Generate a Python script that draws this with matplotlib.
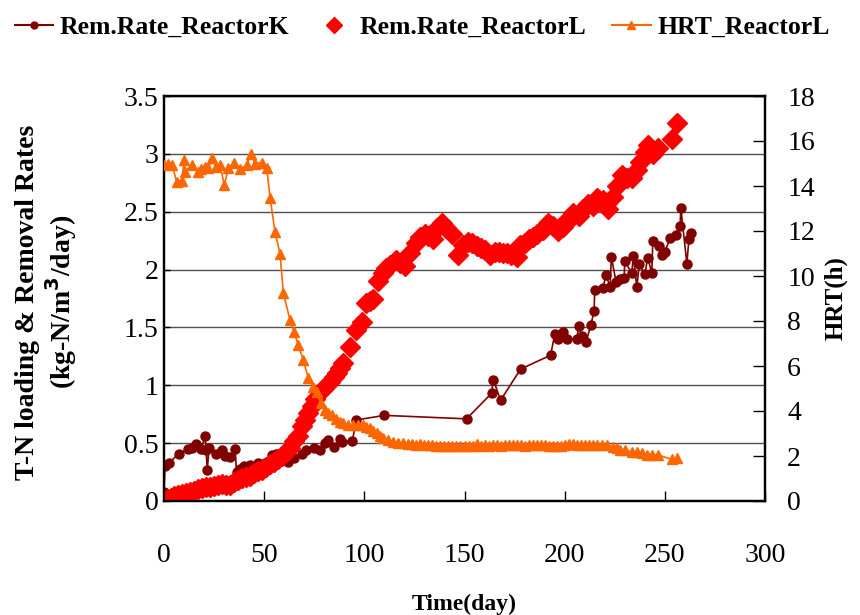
import matplotlib
matplotlib.use("Agg")
import matplotlib.pyplot as plt
from matplotlib.lines import Line2D

# ---------------- data ----------------
k_day = [0, 0.5, 2.5, 7.5, 12, 14, 16, 18.5, 20.5, 21, 21.6, 22.5, 26, 29, 30.5, 33,
         35.5, 36.2, 38, 40, 43, 47, 50.5, 54, 56, 62, 65, 69, 71, 75, 78, 80.5, 82,
         85, 88, 89, 94, 96, 110, 151, 163.5, 164.4, 168, 178, 193, 195, 196.5, 199,
         201, 206, 207, 208.5, 210.7, 213, 214.7, 215, 219, 220.7, 222.7, 223.3,
         225.7, 227.7, 229.7, 230, 233.5, 234.3, 236, 237.3, 240, 241.5, 243.5, 244,
         247.3, 248.5, 250, 252.6, 255.6, 257.6, 258, 261, 262, 263]
k_rate = [0.08, 0.30, 0.33, 0.41, 0.45, 0.46, 0.49, 0.45, 0.56, 0.44, 0.27, 0.46, 0.41,
          0.44, 0.39, 0.38, 0.45, 0.25, 0.28, 0.30, 0.31, 0.33, 0.33, 0.40, 0.41, 0.34,
          0.37, 0.41, 0.44, 0.46, 0.44, 0.50, 0.53, 0.47, 0.54, 0.51, 0.52, 0.70, 0.74,
          0.71, 0.93, 1.05, 0.87, 1.14, 1.26, 1.44, 1.40, 1.46, 1.40, 1.40, 1.51, 1.43,
          1.37, 1.52, 1.64, 1.82, 1.84, 1.95, 1.85, 2.11, 1.89, 1.92, 1.93, 2.07, 1.97,
          2.12, 1.85, 2.05, 1.96, 2.10, 1.97, 2.25, 2.20, 2.13, 2.15, 2.27, 2.30, 2.38,
          2.53, 2.05, 2.26, 2.32]

l_day = [0.5, 2, 3.5, 5, 7, 9, 11, 13, 15, 17, 19, 21, 23, 25, 27, 29, 31, 33, 35, 37,
         39, 41, 43, 45, 47, 49, 51, 53, 55, 57, 59, 61, 63, 65, 67, 69, 70.5, 72, 73.7,
         75.5, 78, 80, 83, 85, 86.5, 88, 89.5, 93, 96, 98.7, 101, 103, 104.5, 107,
         109.5, 111, 113, 116, 118, 120.3, 122.8, 126, 128, 130.3, 132, 134.5, 136.5,
         138.6, 141, 143.6, 147, 149.4, 151.5, 153.6, 156, 158, 160, 162.8, 165, 167,
         169, 171, 173, 176, 177.7, 180, 182, 184, 186, 189, 191.9, 194, 196.9, 199,
         201, 203, 204.3, 207, 209, 211.8, 214, 216, 219.3, 221.8, 224.3, 226, 228.5,
         231, 233.5, 236, 237.6, 240, 241.8, 244.3, 246.8, 253.5, 256]
l_rate = [0.00, 0.02, 0.03, 0.04, 0.05, 0.06, 0.07, 0.08, 0.09, 0.10, 0.11, 0.12, 0.12,
          0.13, 0.14, 0.15, 0.14, 0.14, 0.16, 0.18, 0.20, 0.21, 0.22, 0.24, 0.26, 0.27,
          0.29, 0.32, 0.34, 0.36, 0.39, 0.42, 0.46, 0.52, 0.56, 0.65, 0.70, 0.76, 0.82,
          0.88, 0.94, 0.98, 1.03, 1.07, 1.11, 1.15, 1.19, 1.33, 1.48, 1.55, 1.71, 1.73,
          1.75, 1.90, 1.97, 2.01, 2.04, 2.08, 2.06, 2.03, 2.14, 2.23, 2.28, 2.31, 2.29,
          2.26, 2.36, 2.40, 2.36, 2.31, 2.13, 2.21, 2.24, 2.23, 2.20, 2.19, 2.17, 2.13,
          2.15, 2.15, 2.14, 2.14, 2.13, 2.11, 2.21, 2.23, 2.26, 2.28, 2.31, 2.34, 2.40,
          2.38, 2.33, 2.37, 2.43, 2.45, 2.49, 2.46, 2.52, 2.57, 2.55, 2.62, 2.60, 2.52,
          2.63, 2.72, 2.82, 2.79, 2.79, 2.86, 2.93, 3.02, 3.08, 3.00, 3.05, 3.13, 3.27]

hrt_day = [0, 2.1, 4, 6.3, 8.8, 10.1, 10.5, 13.8, 16.8, 18.5, 20.5, 22.1, 24.1, 26, 28,
           30.1, 32.1, 35, 38, 41.3, 43.4, 45.4, 48.8, 51.3, 53, 55.4, 57.9, 59.6, 62.9,
           64.9, 67, 69.5, 72, 74.2, 76.2, 78.2, 80.4, 82, 83.7, 86, 88, 89.5, 92, 94.5,
           97, 99.5, 101, 102.8, 104.5, 106.2, 108, 109.5, 112, 114.5, 117, 119.5, 122,
           124, 126, 128, 130, 132, 134, 136, 138, 140, 142, 144, 146, 148, 150, 152,
           154, 156, 158, 160, 162, 164, 166, 168, 170, 172, 174, 176, 178, 180, 182,
           184, 186, 188, 190, 192, 194, 196, 198, 200, 202, 204, 206, 208, 210, 212,
           214, 216, 218.5, 221, 224.3, 226, 227.7, 230, 233.5, 236, 238.5, 241, 243.5,
           246.8, 253.5, 256]
hrt_h = [14.93, 14.98, 14.95, 14.2, 14.24, 15.16, 14.64, 14.93, 14.64, 14.75, 14.86,
         14.78, 15.23, 14.85, 14.93, 14.04, 14.78, 15.04, 14.74, 14.93, 15.42, 15.0,
         15.04, 14.78, 13.45, 11.97, 11.0, 9.23, 8.04, 7.53, 6.93, 6.27, 5.48, 5.08, 4.86,
         4.34, 4.04, 3.90, 3.82, 3.65, 3.52, 3.45, 3.40, 3.38, 3.40, 3.38, 3.30, 3.23,
         3.12, 3.01, 2.90, 2.79, 2.72, 2.64, 2.60, 2.56, 2.53, 2.52, 2.50, 2.52, 2.50,
         2.48, 2.47, 2.44, 2.46, 2.44, 2.45, 2.44, 2.43, 2.44, 2.43, 2.45, 2.44, 2.52,
         2.46, 2.47, 2.46, 2.48, 2.47, 2.46, 2.47, 2.47, 2.48, 2.47, 2.48, 2.46, 2.47,
         2.47, 2.48, 2.47, 2.47, 2.46, 2.44, 2.43, 2.45, 2.50, 2.52, 2.52, 2.51, 2.48,
         2.47, 2.48, 2.48, 2.49, 2.49, 2.50, 2.41, 2.36, 2.27, 2.25, 2.19, 2.19, 2.12,
         2.04, 2.04, 2.04, 1.85, 1.90]

x_ticks = [0, 50, 100, 150, 200, 250, 300]
left_ticks = [0, 0.5, 1, 1.5, 2, 2.5, 3, 3.5]
left_tick_labels = ["0", "0.5", "1", "1.5", "2", "2.5", "3", "3.5"]
right_ticks = [0, 2, 4, 6, 8, 10, 12, 14, 16, 18]

series_labels = ["Rem.Rate_ReactorK", "Rem.Rate_ReactorL", "HRT_ReactorL"]

# ---------------- style ----------------
plt.rcParams['font.family'] = ['Liberation Serif', 'DejaVu Serif']
c_k = '#800000'
c_l = '#FF0000'
c_h = '#FF6600'

fig = plt.figure(figsize=(8.6, 6.15), dpi=100)
ax = fig.add_axes([164/860, 1 - 501/615, (765-164)/860, (501-96)/615])
ax2 = ax.twinx()

ax.set_xlim(0, 300)
ax.set_ylim(0, 3.5)
ax2.set_ylim(0, 18)

for y in left_ticks[1:]:
    ax.axhline(y, color='#505050', lw=1.0, zorder=0)

ax.plot(k_day, k_rate, color=c_k, lw=1.2, marker='o', ms=6.5, zorder=3)
ax.plot(l_day, l_rate, ls='none', color=c_l, marker='D', ms=10, mec=c_l, zorder=4)
ax2.plot(hrt_day, hrt_h, color=c_h, lw=1.2, marker='^', ms=7.5, mec=c_h, zorder=5)

ax.set_xticks(x_ticks)
ax.set_xticklabels([str(v) for v in x_ticks])
ax.set_yticks(left_ticks)
ax.set_yticklabels(left_tick_labels)
ax2.set_yticks(right_ticks)
ax2.set_yticklabels([str(v) for v in right_ticks])

ax.tick_params(axis='x', direction='in', length=7, width=1, pad=30, labelsize=20)
ax.tick_params(axis='y', direction='in', length=4, width=1, pad=4, labelsize=20)
ax2.tick_params(axis='y', direction='in', length=9, width=1, pad=16, labelsize=20)

for a in (ax, ax2):
    for s in a.spines.values():
        s.set_linewidth(1.6)
        s.set_color('black')

ax.set_xlabel("Time(day)", fontsize=17, fontweight='bold', labelpad=19)
ax2.set_ylabel("HRT(h)", fontsize=18, fontweight='bold')
ax2.yaxis.set_label_coords((824 - 164) / 601, 0.5)

fig.text(28/860, 1 - 302/615, "T-N loading & Removal Rates", rotation=90,
         ha='center', va='center', fontsize=20, fontweight='bold')
fig.text(61/860, 1 - 302/615, "(kg-N/m$^{\\mathbf{3}}$/day)", rotation=90,
         ha='center', va='center', fontsize=20, fontweight='bold')

handles = [
    Line2D([], [], color=c_k, lw=1.5, marker='o', ms=5),
    Line2D([], [], ls='none', color=c_l, marker='D', ms=8),
    Line2D([], [], color=c_h, lw=1.5, marker='^', ms=6),
]
fig.legend(handles, series_labels, loc='center', bbox_to_anchor=(422/860, 1 - 27/615),
           ncol=3, frameon=False, prop={'size': 18.5, 'weight': 'bold'},
           handlelength=1.5, handletextpad=0.25, columnspacing=1.0)

fig.savefig("out.png", dpi=100)
